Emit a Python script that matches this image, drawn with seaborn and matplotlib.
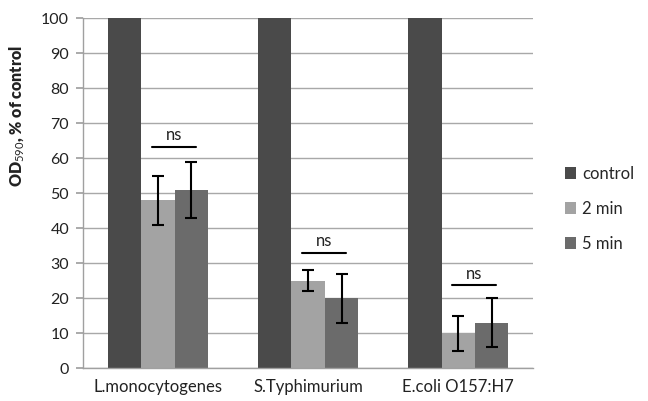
import matplotlib
matplotlib.use("Agg")
import matplotlib.pyplot as plt
import numpy as np
import pandas as pd
import seaborn as sns

# data
species = ["L.monocytogenes", "S.Typhimurium", "E.coli O157:H7"]
treatments = ["control", "2 min", "5 min"]
control = [100, 100, 100]
min2 = [48, 25, 10]
min5 = [51, 20, 13]
err2 = [7, 3, 5]
err5 = [8, 7, 7]
ns_level = [63.3, 33, 23.7]

colors = ["#4a4a4a", "#a3a3a3", "#6b6b6b"]

rows = []
for i, s in enumerate(species):
    rows.append((s, "control", control[i], 0))
    rows.append((s, "2 min", min2[i], err2[i]))
    rows.append((s, "5 min", min5[i], err5[i]))
df = pd.DataFrame(rows, columns=["species", "treatment", "value", "err"])

sns.set_theme(style="white")
plt.rcParams["font.family"] = ["Lato", "DejaVu Sans"]
plt.rcParams["mathtext.fontset"] = "custom"
plt.rcParams["mathtext.rm"] = "Lato"
plt.rcParams["mathtext.bf"] = "Lato:bold"

fig = plt.figure(figsize=(6.48, 4.01), dpi=100)
ax = fig.add_axes([0.128, 0.082, 0.695, 0.873])

sns.barplot(data=df, x="species", y="value", hue="treatment", order=species,
            hue_order=treatments, palette=colors, width=0.667, gap=0,
            errorbar=None, saturation=1, linewidth=0, ax=ax, zorder=2)

# error bars on the treated samples
for k, t in enumerate(treatments):
    if t == "control":
        continue
    errs = err2 if t == "2 min" else err5
    vals = min2 if t == "2 min" else min5
    xs = [p.get_x() + p.get_width() / 2 for p in ax.containers[k]]
    ax.errorbar(xs, vals, yerr=errs, fmt="none", ecolor="black",
                elinewidth=1.5, capsize=4, capthick=1.5, zorder=3)

# "ns" brackets
for i in range(len(species)):
    x0 = i - 0.04
    x1 = i + 0.25
    ax.plot([x0, x1], [ns_level[i], ns_level[i]], color="black", lw=1.5, zorder=3)
    ax.text((x0 + x1) / 2, ns_level[i] + 1.0, "ns", ha="center", va="bottom",
            fontsize=12, color="#222222")

ax.set_ylim(0, 100)
ax.set_xlim(-0.5, 2.5)
ax.set_yticks(np.arange(0, 101, 10))
ax.yaxis.grid(True, color="#a8a8a8", lw=1)
ax.set_axisbelow(True)

ax.set_xticks([-0.5, 0.5, 1.5, 2.5], minor=True)
ax.tick_params(axis="x", which="major", length=0, labelsize=12, pad=8,
               labelcolor="#222222")
ax.tick_params(axis="x", which="minor", length=5, color="#a0a0a0", direction="out")
ax.tick_params(axis="y", length=5, color="#a0a0a0", labelsize=11.5, pad=5,
               labelcolor="#222222", left=True, direction="out")

for side in ["top", "right"]:
    ax.spines[side].set_visible(False)
for side in ["left", "bottom"]:
    ax.spines[side].set_color("#a0a0a0")
    ax.spines[side].set_linewidth(1)

ax.set_xlabel("")
ax.set_ylabel(r"OD$_{\mathrm{590}}$, % of control", fontweight="heavy", fontsize=11.5,
              color="#222222")
ax.yaxis.set_label_coords(-0.125, 0.72)

handles, labels = ax.get_legend_handles_labels()
ax.legend(handles, labels, loc="center left", bbox_to_anchor=(1.055, 0.455),
          frameon=False, fontsize=12, handlelength=0.7, handleheight=0.7,
          handletextpad=0.35, labelspacing=1.15, borderaxespad=0)

fig.savefig("out.png", dpi=100)
